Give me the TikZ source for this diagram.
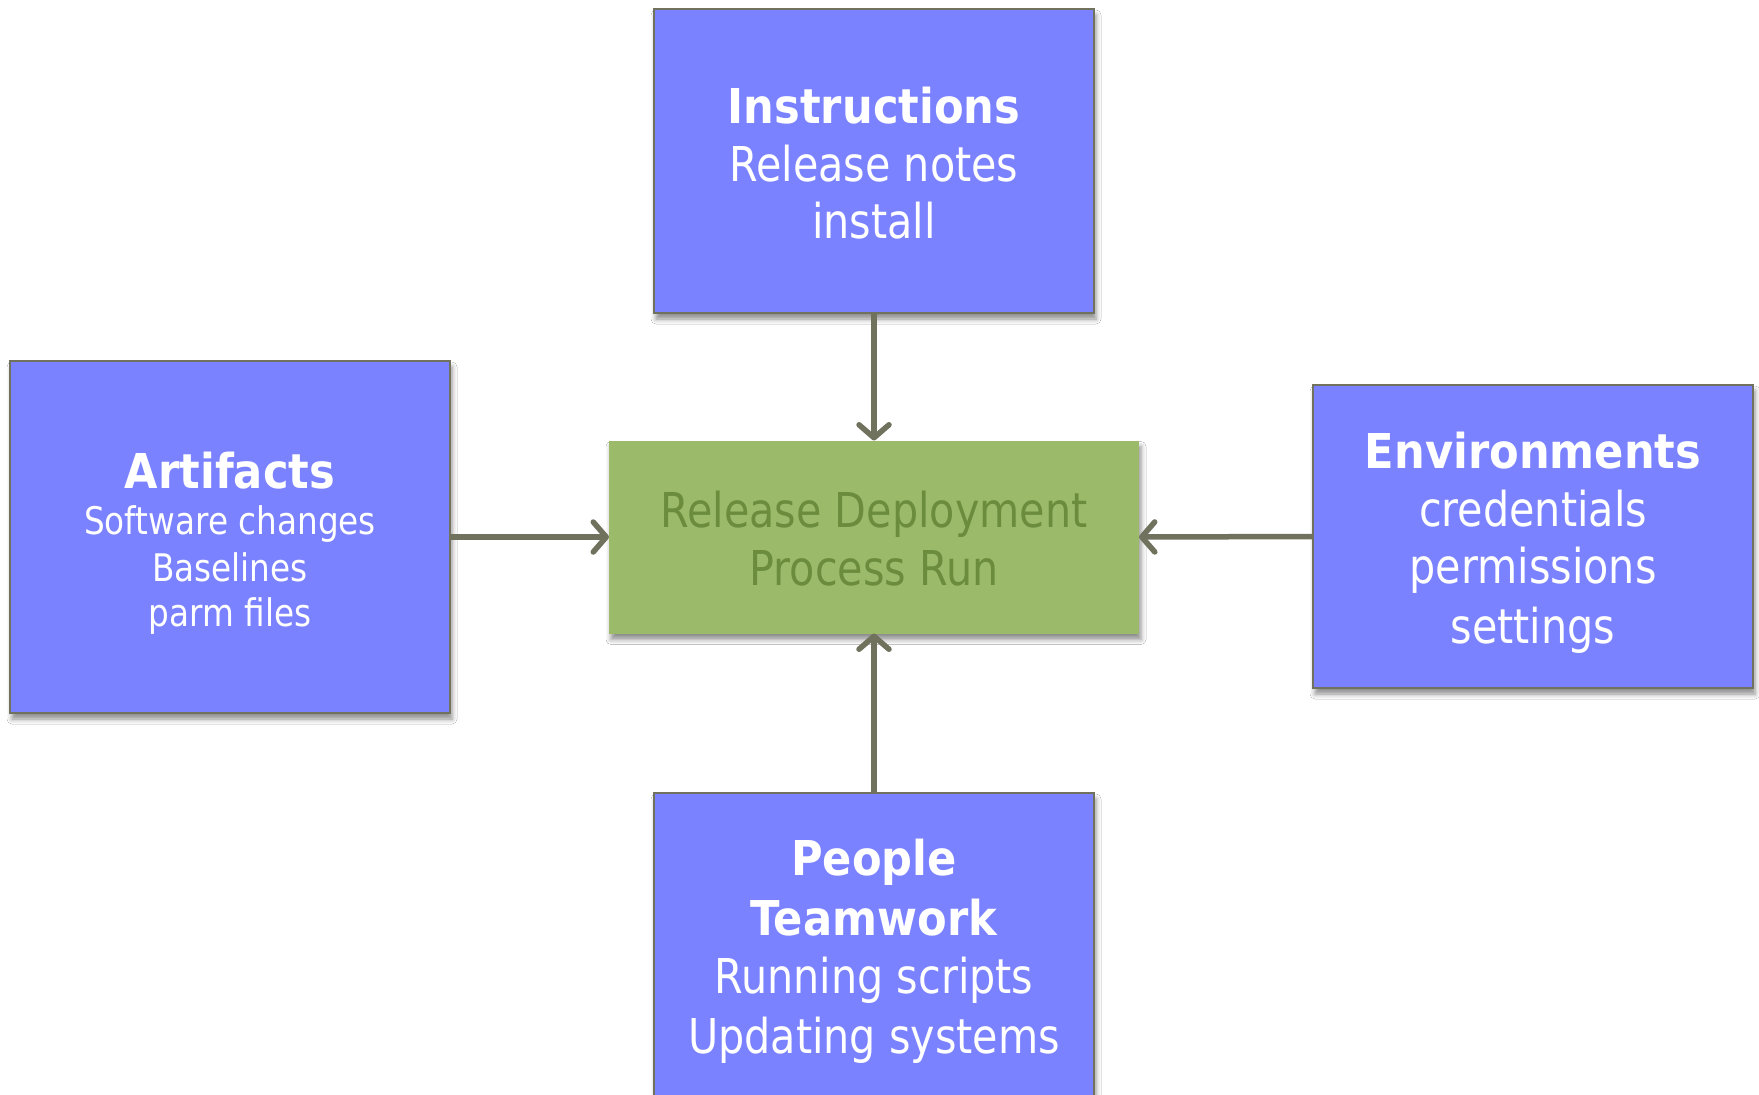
\documentclass[tikz,border=0pt]{standalone}
\usepackage{fontspec}
\setmainfont{DejaVu Sans}[FakeStretch=0.86, BoldFeatures={FakeStretch=0.9}]
\usetikzlibrary{arrows.meta,shadows.blur}
\definecolor{boxblue}{RGB}{123,130,255}
\definecolor{drab}{RGB}{112,114,94}
\definecolor{greenfill}{RGB}{155,187,106}
\definecolor{greentext}{RGB}{106,140,60}
\newcommand\lstrut{\vrule width0pt height .85\baselineskip depth .15\baselineskip}
\tikzset{
  bluebox/.style={draw=drab, line width=2pt, fill=boxblue, text=white, align=center,
    inner sep=0pt, outer sep=0pt,
    blur shadow={shadow xshift=2pt, shadow yshift=-6pt, shadow blur radius=5pt, shadow opacity=45}},
  greenbox/.style={fill=greenfill, text=greentext, align=center, inner sep=0pt, outer sep=0pt,
    blur shadow={shadow xshift=2pt, shadow yshift=-6pt, shadow blur radius=5pt, shadow opacity=45}},
  conn/.style={draw=drab, line width=5.5pt, -{Straight Barb[length=13pt,width=30pt,round]}},
  big/.style={font=\fontsize{48}{57.6}\selectfont},
}
\begin{document}
\begin{tikzpicture}[x=1pt,y=-1pt]
\useasboundingbox[fill=white] (0,0) rectangle (1759,1095);
\node[greenbox, font=\fontsize{48}{55}\selectfont, minimum width=530, minimum height=193] (run) at (874,537)
  {\lstrut Release Deployment\\ \lstrut Process Run};
\node[bluebox, big, minimum width=440, minimum height=304] (ins) at (874,161)
  {\lstrut\textbf{Instructions}\\ \lstrut Release notes\\ \lstrut install};
\node[bluebox, font=\fontsize{38}{45}\selectfont, minimum width=440, minimum height=352] (art) at (230,537)
  {\vrule width0pt height 49pt depth 6.75pt{\fontsize{48}{45}\selectfont\bfseries Artifacts}\\ \lstrut Software changes\\ \lstrut Baselines\\ \lstrut parm files};
\node[bluebox, big, minimum width=440, minimum height=303] (env) at (1533,536.5)
  {\lstrut\textbf{Environments}\\ \lstrut credentials\\ \lstrut permissions\\ \lstrut settings};
\node[bluebox, big, minimum width=440, minimum height=304] (ppl) at (874,945)
  {\lstrut\textbf{People}\\ \lstrut\textbf{Teamwork}\\ \lstrut Running scripts\\ \lstrut Updating systems};
\draw[conn] (ins.south) -- (run.north);
\draw[conn] (art.east) -- (run.west);
\draw[conn] (env.west) -- (run.east);
\draw[conn] (ppl.north) -- (run.south);
\end{tikzpicture}
\end{document}
